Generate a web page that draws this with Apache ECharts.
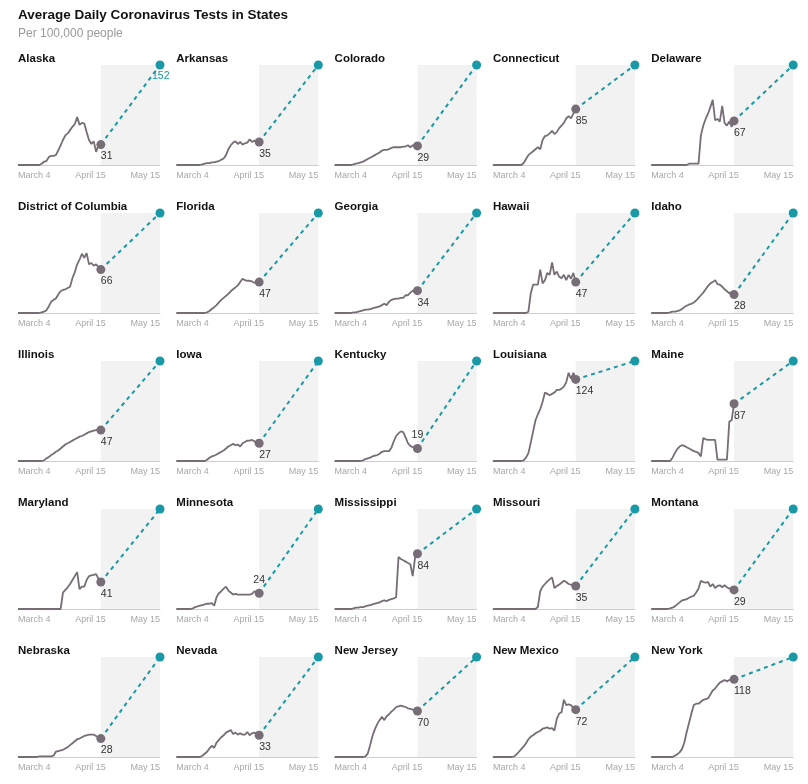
<!DOCTYPE html>
<html><head><meta charset="utf-8">
<script src="https://cdn.jsdelivr.net/npm/echarts@6/dist/echarts.min.js"></script>
<style>html,body{margin:0;padding:0;background:#fff}#c{width:808px;height:784px}</style>
</head><body><div id="c"></div><script>
// ---- data ----
const STATES = ['Alaska','Arkansas','Colorado','Connecticut','Delaware',
  'District of Columbia','Florida','Georgia','Hawaii','Idaho',
  'Illinois','Iowa','Kentucky','Louisiana','Maine',
  'Maryland','Minnesota','Mississippi','Missouri','Montana',
  'Nebraska','Nevada','New Jersey','New Mexico','New York'];
const TICK_LABELS = ['March 4','April 15','May 15'];
const TICK_DAYS = [0, 30.6, 60];
const TARGET = 152;       // tests per 100,000 target
const TARGET_DAY = 60;    // May 15
const LAST_DAY = 35;      // last reported day

const alaska      = [0,0,0,0,0,0,0,0,0,0,2,5,6,12,14,14,15,22,30,38,45,48,53,58,62,73,61,64,63,50,38,32,36,20,30,31];
const arkansas    = [0,0,0,0,0,0,0,0,0,0,0,1,2,3,3,4,4,5,6,8,10,15,24,30,34,36,32,35,31,33,34,39,35,37,36,35];
const colorado    = [0,0,0,0,0,0,0,0,1,2,3,4,5,7,9,11,13,15,17,19,22,23,23,24,26,27,27,27,27,28,28,30,27,30,28,29];
const connecticut = [0,0,0,0,0,0,0,0,0,0,0,0,0,3,9,15,18,21,24,27,24,38,44,45,48,52,47,50,56,60,64,71,74,71,78,85];
const delaware    = [0,0,0,0,0,0,0,0,0,0,0,0,0,0,0,0,2,2,2,2,2,45,60,70,78,88,99,68,70,66,90,64,60,66,58,67];
const dc          = [0,0,0,0,0,0,0,0,0,0,1,2,4,10,17,20,22,28,33,35,36,38,40,53,62,74,81,90,84,91,74,76,72,74,70,66];
const florida     = [0,0,0,0,0,0,0,0,0,0,0,0,0,1,3,6,9,12,16,20,23,26,29,33,36,39,42,47,52,50,49,49,48,46,45,47];
const georgia     = [0,0,0,0,0,0,0,0,1,1,2,3,4,5,5,6,7,8,9,10,12,14,12,17,20,21,22,22,23,23,27,27,31,34,33,34];
const hawaii      = [0,0,0,0,0,0,0,0,0,0,0,0,0,0,0,2,30,43,43,43,66,45,50,61,58,77,58,63,55,53,58,50,58,52,61,47];
const idaho       = [0,0,0,0,0,0,0,0,1,2,2,3,4,6,9,11,13,14,16,19,23,27,31,36,41,45,47,50,44,43,40,36,33,30,32,28];
const illinois    = [0,0,0,0,0,0,0,0,0,0,0,1,4,6,9,11,14,16,19,22,25,27,29,31,33,35,37,38,40,42,44,45,46,47,48,47];
const iowa        = [0,0,0,0,0,0,0,0,0,0,0,0,0,2,5,7,8,10,12,14,16,19,22,24,26,24,25,22,27,29,31,31,32,30,27,27];
const kentucky    = [0,0,0,0,0,0,0,0,0,0,0,0,1,3,4,5,7,8,9,11,14,15,15,15,20,30,38,42,45,44,36,27,23,21,20,19];
const louisiana   = [0,0,0,0,0,0,0,0,0,0,0,0,0,1,5,12,28,45,62,71,79,90,104,102,100,102,104,108,108,110,113,120,134,125,134,124];
const maine       = [0,0,0,0,0,0,0,0,0,5,12,18,22,24,23,21,19,17,15,14,12,7,35,33,32,32,32,32,2,2,2,2,2,60,62,87];
const maryland    = [0,0,0,0,0,0,0,0,0,0,0,0,0,0,0,0,0,0,0,25,29,33,38,44,50,56,30,34,34,44,50,51,52,53,46,41];
const minnesota   = [0,0,0,0,0,0,0,1,3,4,5,6,7,8,8,9,5,18,24,27,31,34,28,25,22,23,22,22,22,22,22,22,23,27,25,24];
const mississippi = [0,0,0,0,0,0,0,0,1,2,2,3,3,4,5,6,7,8,9,10,12,13,12,14,15,16,18,79,76,74,72,70,68,50,78,84];
const missouri    = [0,0,0,0,0,0,0,0,0,0,0,0,0,0,0,0,0,0,0,3,27,34,38,42,45,48,32,35,37,40,43,41,38,37,34,35];
const montana     = [0,0,0,0,0,0,0,0,1,2,4,7,10,13,14,15,17,19,20,25,31,43,41,40,41,34,38,32,35,36,33,36,33,31,32,29];
const nebraska    = [0,0,0,0,0,0,0,0,0,1,1,1,1,1,1,2,8,9,10,11,13,15,18,21,24,27,28,30,32,33,34,34,34,32,29,28];
const nevada      = [0,0,0,0,0,0,0,0,0,0,0,2,5,8,13,17,14,22,26,30,33,37,39,41,35,37,34,36,34,34,38,33,36,37,36,33];
const newJersey   = [0,0,0,0,0,0,0,0,0,0,0,0,0,1,5,18,32,42,50,56,61,56,62,65,69,72,76,77,78,77,76,74,73,72,70,70];
const newMexico   = [0,0,0,0,0,0,0,0,0,1,4,8,12,16,21,27,31,33,36,38,40,43,44,45,43,44,40,58,66,68,87,79,80,79,74,72];
const newYork     = [0,0,0,0,0,0,0,0,0,0,2,4,7,12,22,38,52,66,79,81,81,84,87,88,89,95,101,104,109,113,115,117,115,117,118,118];

const SERIES_VALUES = [alaska,arkansas,colorado,connecticut,delaware,dc,florida,georgia,hawaii,idaho,
  illinois,iowa,kentucky,louisiana,maine,maryland,minnesota,mississippi,missouri,montana,
  nebraska,nevada,newJersey,newMexico,newYork];
const LABEL_ABOVE = ['Kentucky','Minnesota'];
const SHOW_TARGET_LABEL = ['Alaska'];

// ---- style ----
function hasFont(f){
  const c=document.createElement('canvas').getContext('2d');
  const s='March 4 April 15 May 15';
  c.font='20px monospace'; const w0=c.measureText(s).width;
  c.font="20px '"+f+"', monospace"; return Math.abs(c.measureText(s).width-w0)>0.5;
}
const NARROW = hasFont('Liberation Sans Narrow');
const FONT = "'Liberation Sans', Arial, sans-serif";
const AXIS_FONT = NARROW ? "'Liberation Sans Narrow', sans-serif" : FONT;
const AXIS_SIZE = NARROW ? 10.5 : 9;
const GRAY = '#766d77', TEAL = '#1899a5', SHADE = '#f2f2f2';
const X0 = 18, DX = 158.3, Y0 = 65, DY = 148, PW = 142, PH = 100;

const grid=[], xAxis=[], yAxis=[], series=[];
const title=[
  {text:'Average Daily Coronavirus Tests in States', left:X0, top:8, padding:0,
   textStyle:{fontFamily:FONT,fontSize:13.5,fontWeight:'bold',color:'#121212'}},
  {text:'Per 100,000 people', left:X0, top:28, padding:0,
   textStyle:{fontFamily:FONT,fontSize:12,fontWeight:'normal',color:'#9a9a9a'}}
];
STATES.forEach((name,i)=>{
  const c=i%5, r=Math.floor(i/5);
  const left=X0+c*DX, top=Y0+r*DY;
  const vals=SERIES_VALUES[i];
  const last=vals[vals.length-1];
  title.push({text:name,left:left,top:top-12,padding:0,
    textStyle:{fontFamily:FONT,fontSize:11.5,fontWeight:'bold',color:'#121212'}});
  grid.push({left:left,top:top,width:PW,height:PH});
  xAxis.push({gridIndex:i,type:'value',min:0,max:TARGET_DAY,
    axisLine:{show:true,lineStyle:{color:'#cfcfcf',width:1}},
    axisTick:{show:false},splitLine:{show:false},
    axisLabel:{customValues:TICK_DAYS,formatter:v=>TICK_LABELS[TICK_DAYS.indexOf(v)],
      color:'#a8a8a8',fontFamily:AXIS_FONT,fontSize:AXIS_SIZE,margin:6,
      alignMinLabel:'left',alignMaxLabel:'right',showMinLabel:true,showMaxLabel:true,hideOverlap:false}});
  yAxis.push({gridIndex:i,type:'value',min:0,max:TARGET,show:false});
  series.push({type:'line',xAxisIndex:i,yAxisIndex:i,silent:true,z:3,
    data:vals.map((v,d)=>[d,v]),symbol:'none',showSymbol:false,
    lineStyle:{color:GRAY,width:1.8},
    markArea:{silent:true,itemStyle:{color:SHADE},data:[[{xAxis:LAST_DAY},{xAxis:TARGET_DAY}]]}});
  const showT = SHOW_TARGET_LABEL.includes(name);
  series.push({type:'line',xAxisIndex:i,yAxisIndex:i,silent:true,z:4,clip:false,
    showSymbol:true,showAllSymbol:true,
    data:[{value:[LAST_DAY,last],symbol:'none'},
          {value:[TARGET_DAY,TARGET],symbol:'circle',symbolSize:9,
           label:{show:showT,position:'bottom',align:'left',distance:1,offset:[-8,0],
             formatter:String(TARGET),color:TEAL,fontFamily:FONT,fontSize:10.5}}],
    lineStyle:{color:TEAL,width:2,type:[4,4]},itemStyle:{color:TEAL,opacity:1}});
  const above = LABEL_ABOVE.includes(name);
  series.push({type:'scatter',xAxisIndex:i,yAxisIndex:i,silent:true,z:5,clip:false,
    data:[[LAST_DAY,last]],symbolSize:9,itemStyle:{color:GRAY,opacity:1},
    label:{show:true,formatter:p=>String(p.value[1]),color:'#333',fontFamily:FONT,fontSize:10.5,
      position:above?'top':'bottom',align:above?'center':'left',distance:above?3:2}});
});

const chart=echarts.init(document.getElementById('c'),null,{renderer:'canvas'});
chart.setOption({animation:false,backgroundColor:'#fff',title,grid,xAxis,yAxis,series});
</script></body></html>
